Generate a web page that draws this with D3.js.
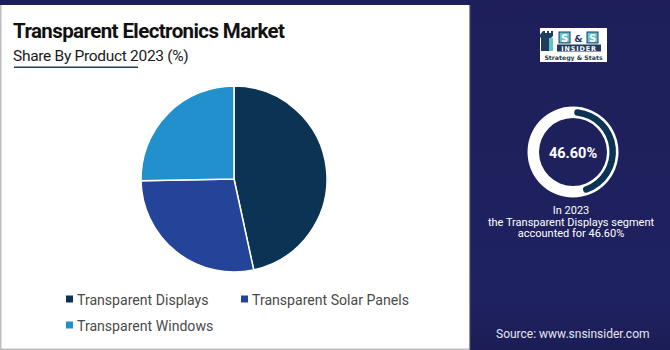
<!DOCTYPE html>
<html><head><meta charset="utf-8">
<script src="https://cdn.jsdelivr.net/npm/d3@7"></script>
<style>html,body{margin:0;padding:0;background:#1e1f5a;}svg{display:block;}</style>
</head><body>
<svg id="chart" width="670" height="350"></svg>
<script>
const categories = ["Transparent Displays", "Transparent Solar Panels", "Transparent Windows"];
const shares = [46.6, 28.1, 25.3];
const colors = ["#0b3353", "#24449a", "#2190cc"];
const highlightValue = 46.6;
const titleText = "Transparent Electronics Market";
const subtitleText = "Share By Product 2023 (%)";
const noteLines = ["In 2023", "the Transparent Displays segment", "accounted for 46.60%"];
const sourceText = "Source: www.snsinsider.com";

const svg = d3.select("#chart");
const defs = svg.append("defs");
const g = defs.append("linearGradient").attr("id","rg").attr("x1",0).attr("y1",0).attr("x2",0).attr("y2",1);
g.append("stop").attr("offset","0%").attr("stop-color","#1e1f5a");
g.append("stop").attr("offset","85%").attr("stop-color","#1f2260");
g.append("stop").attr("offset","100%").attr("stop-color","#1c1d56");

svg.append("rect").attr("width",670).attr("height",350).attr("fill","#1e1f5a");
svg.append("rect").attr("x",470).attr("y",0).attr("width",200).attr("height",350).attr("fill","url(#rg)");
// white panel
svg.append("rect").attr("x",0).attr("y",5).attr("width",470).attr("height",345).attr("fill","#bdbdbd");
svg.append("rect").attr("x",1.5).attr("y",5).attr("width",467.5).attr("height",343.5).attr("fill","#ffffff");
svg.append("rect").attr("x",469).attr("y",5).attr("width",1.2).attr("height",345).attr("fill","#8d8fb0");

// title
svg.append("text").attr("x",13).attr("y",37.5).text(titleText)
  .attr("font-family","Roboto, sans-serif").attr("font-weight",700).attr("font-size",20.5)
  .attr("letter-spacing","-0.6").attr("fill","#111");
svg.append("text").attr("x",13).attr("y",61).text(subtitleText)
  .attr("font-family","Roboto, sans-serif").attr("font-size",15.5).attr("letter-spacing","-0.3").attr("fill","#1a1a1a");
svg.append("rect").attr("x",14).attr("y",66.5).attr("width",124).attr("height",1.5).attr("fill","#1f3b5e");

// pie
const cx = 234, cy = 179, r = 93;
const pie = d3.pie().sort(null).value(d => d)(shares);
const arc = d3.arc().innerRadius(0).outerRadius(r);
svg.append("g").attr("transform",`translate(${cx},${cy})`)
  .selectAll("path").data(pie).join("path")
  .attr("d",arc).attr("fill",(d,i)=>colors[i])
  .attr("stroke","#fff").attr("stroke-width",1.5).attr("stroke-linejoin","round");

// legend
const legendPos = [[66,299],[241,299],[66,325]];
const lg = svg.append("g").selectAll("g").data(categories).join("g")
  .attr("transform",(d,i)=>`translate(${legendPos[i][0]},${legendPos[i][1]})`);
lg.append("rect").attr("x",0).attr("y",-3.5).attr("width",7).attr("height",7).attr("fill",(d,i)=>colors[i]);
lg.append("text").attr("x",11).attr("y",5.5).text(d=>d)
  .attr("font-family","Roboto, sans-serif").attr("font-size",14.1).attr("fill","#4a4a4a");

// logo
const logo = svg.append("g").attr("transform","translate(540,28)");
logo.append("rect").attr("width",67).attr("height",34).attr("fill","#ffffff");
// tower icon
logo.append("path").attr("d","M3,3 h2 v2 h2 v-2 h2 v2 h2 v-2 h2 v5 l-2,2 v13 h-10 v-13 l-2,-2 z").attr("fill","#1f3b5e");
logo.append("rect").attr("x",9).attr("y",10).attr("width",4).attr("height",13).attr("fill","#5fc7c5");
[19, 47].forEach(x => {
  logo.append("rect").attr("x",x).attr("y",4).attr("width",11).attr("height",11).attr("fill","#5fc7c5").attr("stroke","#1f3b5e").attr("stroke-width",1);
  logo.append("text").attr("x",x+5.5).attr("y",13.5).attr("text-anchor","middle").text("S")
    .attr("font-family","DejaVu Sans, sans-serif").attr("font-weight",700).attr("font-size",10).attr("fill","#ffffff");
});
logo.append("text").attr("x",38.5).attr("y",13.5).attr("text-anchor","middle").text("&")
  .attr("font-family","DejaVu Sans, sans-serif").attr("font-weight",700).attr("font-size",9.5).attr("fill","#1f3b5e");
logo.append("rect").attr("x",17).attr("y",16.5).attr("width",44).attr("height",7).attr("fill","#1f3b5e");
logo.append("text").attr("x",39).attr("y",22.5).attr("text-anchor","middle").text("INSIDER")
  .attr("font-family","DejaVu Sans, sans-serif").attr("font-weight",700).attr("font-size",6.5).attr("letter-spacing","0.8").attr("fill","#ffffff");
logo.append("text").attr("x",33.5).attr("y",31.5).attr("text-anchor","middle").text("Strategy & Stats")
  .attr("font-family","DejaVu Sans, sans-serif").attr("font-weight",700).attr("font-size",6.2).attr("fill","#1f3b5e");

// donut
const dx = 573, dy = 152;
const dg = svg.append("g").attr("transform",`translate(${dx},${dy})`);
dg.append("path").attr("d", d3.arc().innerRadius(34).outerRadius(45.5).startAngle(0).endAngle(2*Math.PI)()).attr("fill","#ffffff");
dg.append("path").attr("d", d3.arc().innerRadius(36.5).outerRadius(43).cornerRadius(3.25)
  .startAngle(0.005*2*Math.PI).endAngle(highlightValue/100*2*Math.PI*0.985)()).attr("fill","#0b3353");
dg.append("text").attr("x",0).attr("y",5.5).attr("text-anchor","middle").text(highlightValue.toFixed(2)+"%")
  .attr("font-family","Roboto, sans-serif").attr("font-weight",700).attr("font-size",14.5).attr("fill","#ffffff");

svg.append("g").selectAll("text").data(noteLines).join("text")
  .attr("x",571).attr("y",(d,i)=>214+i*11.5).attr("text-anchor","middle").text(d=>d)
  .attr("font-family","Roboto, sans-serif").attr("font-size",11).attr("fill","#ffffff");

svg.append("text").attr("x",496).attr("y",338).text(sourceText)
  .attr("font-family","Roboto, sans-serif").attr("font-size",12).attr("fill","#e6e6f2");
</script>
</body></html>
